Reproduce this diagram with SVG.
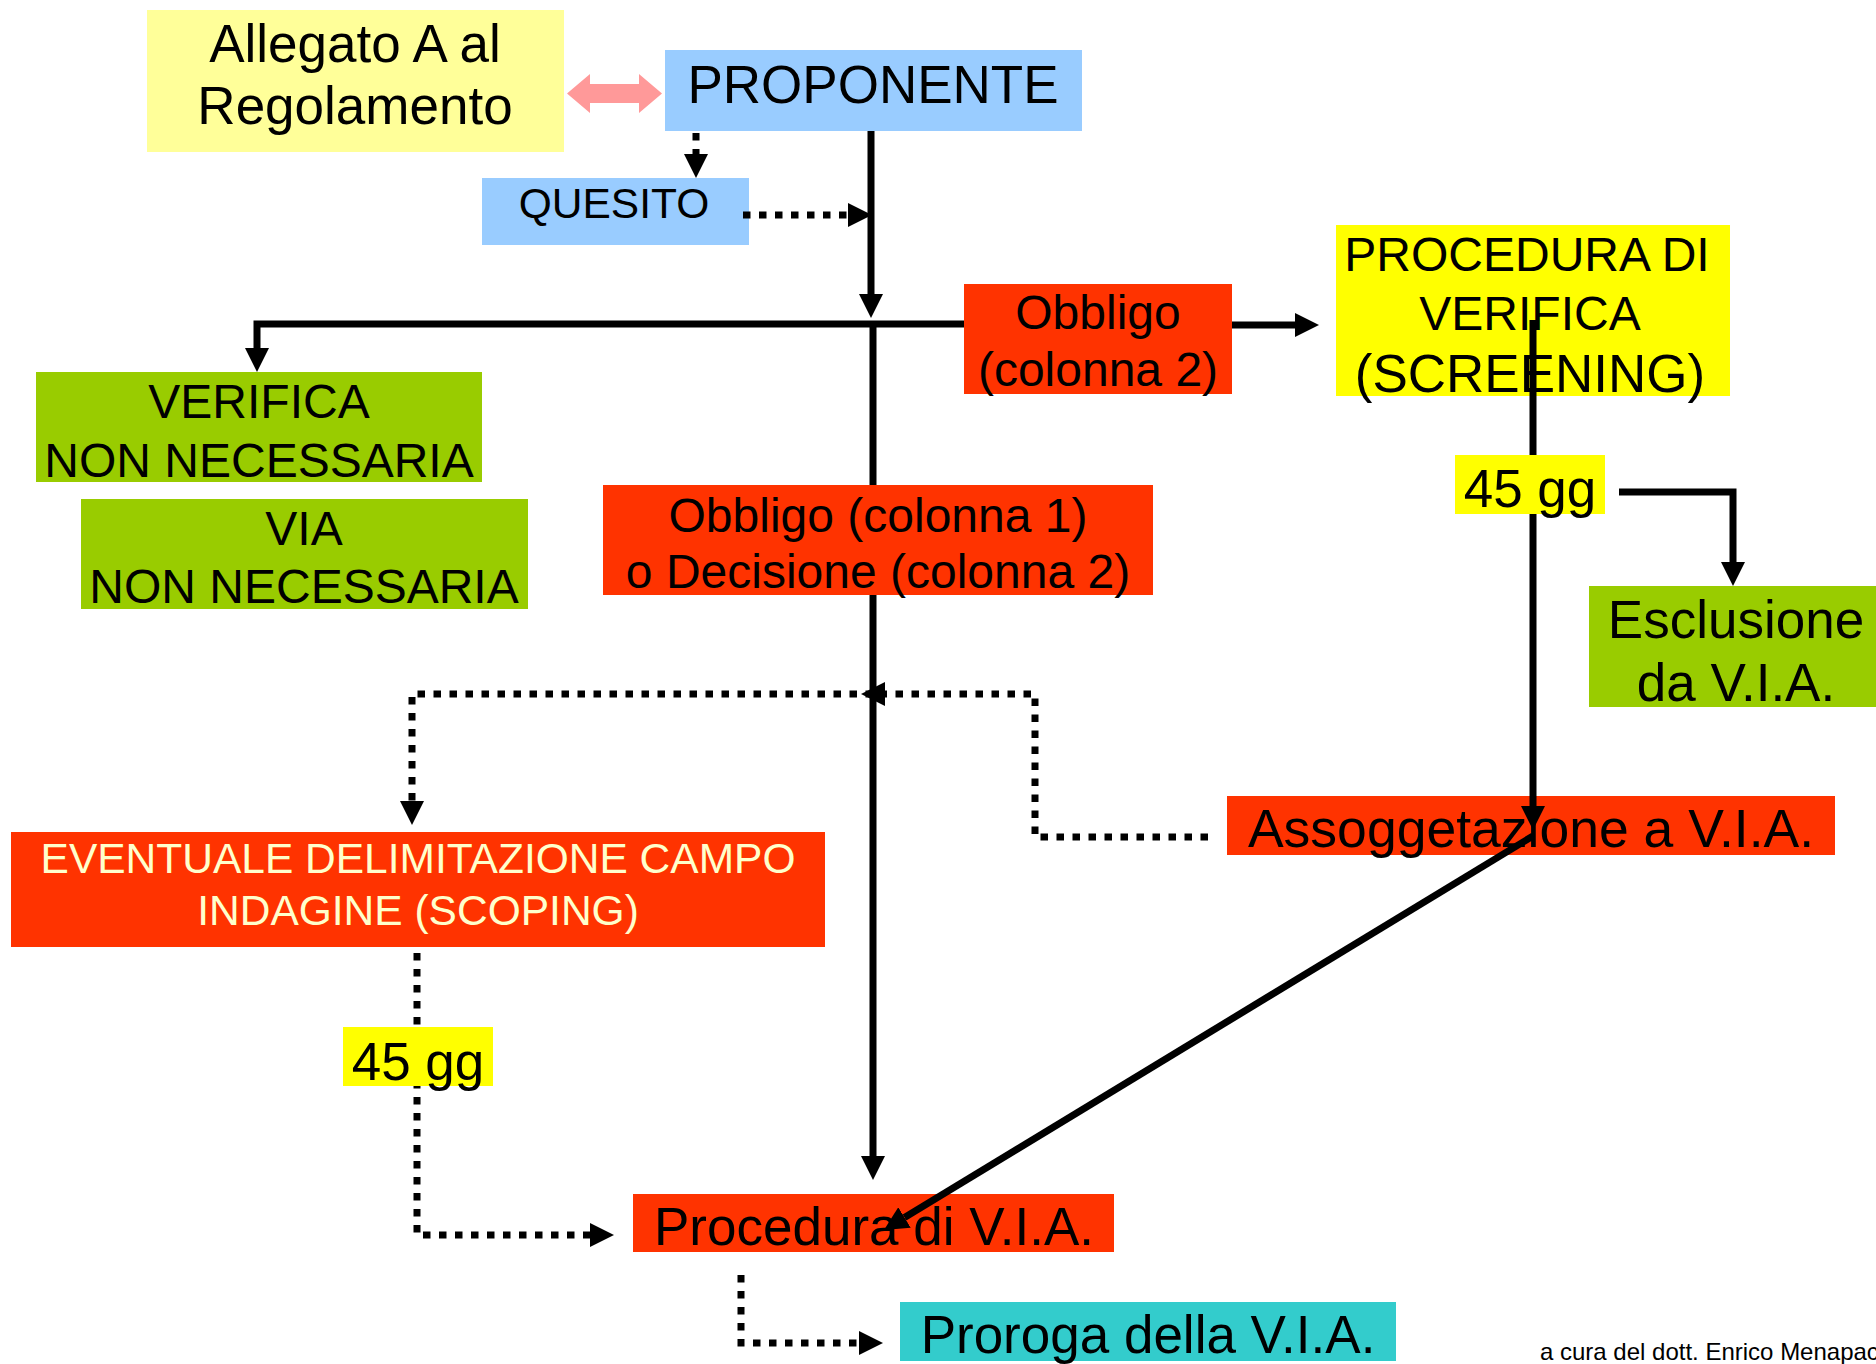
<svg xmlns="http://www.w3.org/2000/svg" width="1876" height="1364" viewBox="0 0 1876 1364">
<style>
text{font-family:"Liberation Sans",Arial,sans-serif;fill:#000;text-anchor:middle}
.f52{font-size:53px}
.f48{font-size:48px}
.f42{font-size:42.5px}
.f41{font-size:42.5px}
.sol{fill:none;stroke:#000;stroke-width:7}
.dot{fill:none;stroke:#000;stroke-width:7;stroke-dasharray:7.5 8.5}
.red{fill:#FF3300}
.grn{fill:#99CC00}
.blu{fill:#99CCFF}
.yel{fill:#FFFF00}
</style>
<defs>
<marker id="ah" viewBox="0 0 24 24" refX="0" refY="12" markerWidth="24" markerHeight="24" markerUnits="userSpaceOnUse" orient="auto"><path d="M0,0 L24,12 L0,24 z" fill="#000"/></marker>
</defs>
<rect width="1876" height="1364" fill="#fff"/>
<g id="n-allegato"><rect x="147" y="10" width="417" height="142" fill="#FFFF99"/><text class="f52" x="355" y="62">Allegato A al</text><text class="f52" x="355" y="124">Regolamento</text></g>
<g id="n-proponente"><rect class="blu" x="665" y="50" width="417" height="81"/><text class="f52" x="873" y="103">PROPONENTE</text></g>
<g id="n-quesito"><rect class="blu" x="482" y="178" width="267" height="67"/><text class="f41" x="614" y="218">QUESITO</text></g>
<g id="n-verifica-nn"><rect class="grn" x="36" y="372" width="446" height="110"/><text class="f48" x="259" y="418">VERIFICA</text><text class="f48" x="259" y="477">NON NECESSARIA</text></g>
<g id="n-via-nn"><rect class="grn" x="81" y="499" width="447" height="110"/><text class="f48" x="304" y="545">VIA</text><text class="f48" x="304" y="603">NON NECESSARIA</text></g>
<g id="n-obbligo2"><rect class="red" x="964" y="284" width="268" height="110"/><text class="f48" x="1098" y="329">Obbligo</text><text class="f48" x="1098" y="386">(colonna 2)</text></g>
<g id="n-screening"><rect class="yel" x="1336" y="225" width="394" height="171"/><text class="f48" x="1527" y="271">PROCEDURA DI</text><text class="f48" x="1530" y="330">VERIFICA</text><text class="f52" x="1530" y="392">(SCREENING)</text></g>
<g id="n-esclusione"><rect class="grn" x="1589" y="586" width="287" height="121"/><text class="f52" x="1736" y="638">Esclusione</text><text class="f52" x="1736" y="701">da V.I.A.</text></g>
<g id="n-scoping"><rect class="red" x="11" y="832" width="814" height="115"/><text class="f42" x="418" y="873" style="fill:#FFFFCC">EVENTUALE DELIMITAZIONE CAMPO</text><text class="f42" x="418" y="925" style="fill:#FFFFCC">INDAGINE (SCOPING)</text></g>
<g id="n-assoggettazione"><rect class="red" x="1227" y="796" width="608" height="59"/><text class="f52" x="1531" y="847" style="font-size:53.5px">Assoggetazione a V.I.A.</text></g>
<g id="n-procedura-via"><rect class="red" x="633" y="1194" width="481" height="58"/><text class="f52" x="874" y="1245">Procedura di V.I.A.</text></g>
<g id="n-proroga"><rect x="900" y="1302" width="496" height="59" fill="#33CCCC"/><text class="f52" x="1148" y="1353">Proroga della V.I.A.</text></g>
<g id="connectors">
<polygon points="567,93.5 590,74 590,84 639,84 639,74 662,93.5 639,113 639,103 590,103 590,113" fill="#FF9999"/>
<path class="sol" d="M871,131 V294" marker-end="url(#ah)"/>
<path class="sol" d="M964,324 H257 V348" marker-end="url(#ah)"/>
<path class="sol" d="M873,324 V1156" marker-end="url(#ah)"/>
<path class="sol" d="M1232,325 H1295" marker-end="url(#ah)"/>
<path class="sol" d="M1533,320 V806" marker-end="url(#ah)"/>
<path class="sol" d="M1619,492 H1733 V562" marker-end="url(#ah)"/>
<path class="sol" d="M1533,836 L904.5,1217.5" marker-end="url(#ah)"/>
<path class="dot" d="M696,133 V154" marker-end="url(#ah)"/>
<path class="dot" d="M743,215 H848" marker-end="url(#ah)"/>
<path class="dot" d="M1208,837 H1035 V694 H885" marker-end="url(#ah)"/>
<path class="dot" d="M873,694 H412 V801" marker-end="url(#ah)"/>
<path class="dot" d="M417,953 V1235 H590" marker-end="url(#ah)"/>
<path class="dot" d="M741,1275 V1343 H859" marker-end="url(#ah)"/>
</g>
<g id="n-obbligo1"><rect class="red" x="603" y="485" width="550" height="110"/><text class="f48" x="878" y="532">Obbligo (colonna 1)</text><text class="f48" x="878" y="588">o Decisione (colonna 2)</text></g>
<g id="n-45gg-verifica"><rect class="yel" x="1455" y="455" width="150" height="59"/><text class="f52" x="1530" y="507">45 gg</text></g>
<g id="n-45gg-scoping"><rect class="yel" x="343" y="1027" width="150" height="59"/><text class="f52" x="418" y="1080">45 gg</text></g>
<text x="1540" y="1360" style="font-size:24px;text-anchor:start">a cura del dott. Enrico Menapac</text>
</svg>
